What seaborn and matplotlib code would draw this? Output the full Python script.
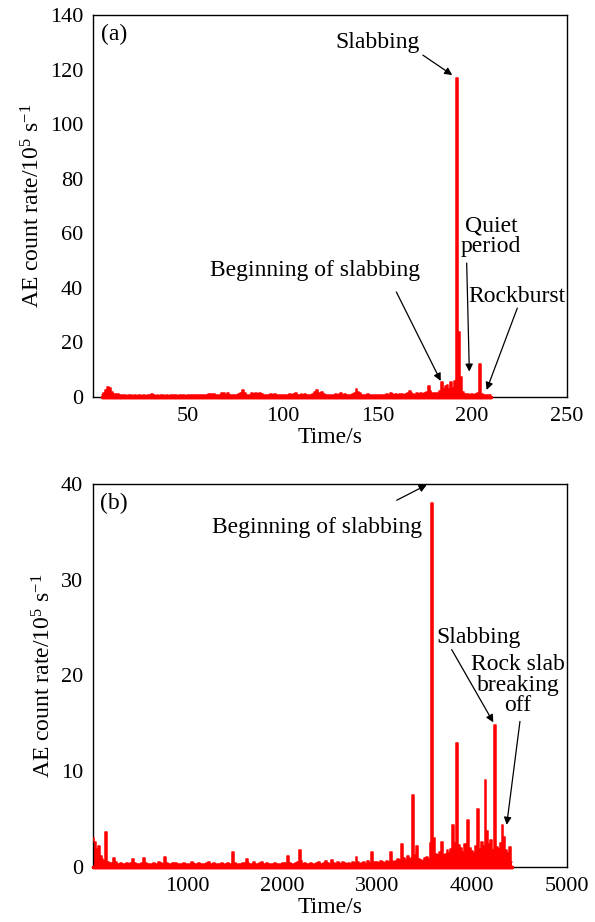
import numpy as np
import pandas as pd
import matplotlib
matplotlib.use("Agg")
import matplotlib.pyplot as plt
import seaborn as sns

# ---------------- data ----------------
# Panel (a): AE count rate (10^5 s^-1), one value per second from t = 5 s to 210 s
time_a_start, time_a_end, time_a_step = 5, 210, 1
rate_a = [
    0.8, 1.5, 2.5, 3.5, 3.2, 2.0, 1.1, 1.0, 1.2, 0.7,
    0.6, 0.8, 0.6, 0.5, 0.6, 0.7, 0.5, 0.6, 0.5, 0.6,
    0.7, 0.5, 0.6, 0.5, 0.6, 0.8, 1.1, 0.6, 0.5, 0.6,
    0.5, 0.7, 0.6, 0.5, 0.6, 0.5, 0.6, 0.7, 0.5, 0.6,
    0.5, 0.6, 0.8, 0.6, 0.5, 0.6, 0.7, 0.6, 0.5, 0.7,
    0.6, 0.8, 0.6, 0.7, 0.9, 0.7, 1.1, 0.8, 1.0, 1.1,
    0.7, 0.6, 0.9, 1.3, 1.5, 0.9, 1.4, 0.8, 0.7, 0.6,
    0.8, 0.7, 1.0, 1.6, 2.4, 1.5, 0.9, 0.7, 0.8, 1.3,
    1.0, 1.5, 1.2, 1.4, 1.0, 0.7, 0.6, 0.8, 0.7, 1.2,
    0.9, 1.1, 0.8, 0.6, 0.7, 0.6, 0.8, 0.7, 0.9, 1.1,
    0.8, 1.0, 1.3, 0.9, 0.7, 1.1, 0.8, 1.0, 0.7, 0.6,
    0.8, 1.2, 1.8, 2.7, 1.4, 0.9, 1.7, 1.0, 0.7, 0.6,
    0.8, 0.7, 0.9, 1.2, 0.8, 1.0, 1.3, 0.9, 1.2, 0.8,
    0.7, 0.9, 1.1, 1.6, 2.9, 1.8, 1.5, 0.9, 0.7, 0.8,
    1.0, 0.7, 0.6, 0.8, 0.7, 0.9, 0.6, 0.8, 0.7, 0.9,
    1.2, 0.8, 1.3, 1.1, 0.9, 1.2, 0.8, 1.0, 1.2, 0.9,
    1.1, 1.6, 2.3, 1.4, 1.0, 0.9, 1.5, 1.2, 1.6, 1.1,
    1.4, 1.8, 3.9, 2.2, 1.5, 1.3, 1.6, 1.4, 2.2, 5.5,
    2.8, 3.9, 4.5, 3.0, 5.5, 3.3, 6.0, 117.0, 24.0, 7.5,
    1.8, 1.2, 0.9, 1.0, 0.8, 1.1, 0.9, 1.0, 1.3, 12.0,
    1.2, 0.8, 0.9, 0.7, 0.8, 0.6,
]

# Panel (b): AE count rate (10^5 s^-1), one value per 20 s from t = 0 s to 4420 s
time_b_start, time_b_end, time_b_step = 0, 4420, 20
rate_b = [
    3.0, 2.6, 1.9, 2.2, 1.1, 0.8, 0.6, 3.6, 0.5, 0.4,
    0.4, 0.9, 0.5, 0.3, 0.3, 0.4, 0.3, 0.3, 0.4, 0.3,
    0.4, 0.8, 0.4, 0.3, 0.3, 0.3, 0.4, 0.9, 0.4, 0.3,
    0.3, 0.3, 0.4, 0.3, 0.3, 0.5, 0.4, 0.3, 1.0, 0.4,
    0.3, 0.3, 0.4, 0.3, 0.4, 0.3, 0.3, 0.3, 0.4, 0.3,
    0.3, 0.3, 0.5, 0.4, 0.3, 0.3, 0.4, 0.3, 0.3, 0.3,
    0.4, 0.5, 0.3, 0.3, 0.4, 0.3, 0.3, 0.3, 0.4, 0.3,
    0.3, 0.4, 0.3, 0.3, 1.6, 0.4, 0.3, 0.3, 0.3, 0.4,
    0.4, 0.8, 0.4, 0.3, 0.3, 0.5, 0.3, 0.3, 0.4, 0.5,
    0.3, 0.3, 0.4, 0.3, 0.3, 0.3, 0.4, 0.3, 0.3, 0.3,
    0.4, 0.3, 0.4, 1.1, 0.4, 0.3, 0.3, 0.4, 0.5, 1.8,
    0.6, 0.3, 0.4, 0.3, 0.3, 0.4, 0.3, 0.3, 0.4, 0.5,
    0.3, 0.3, 0.4, 0.6, 0.4, 0.3, 0.7, 0.4, 0.3, 0.5,
    0.4, 0.3, 0.5, 0.4, 0.3, 0.4, 0.3, 0.5, 0.4, 1.0,
    0.5, 0.3, 0.4, 0.5, 0.3, 0.6, 0.4, 1.6, 0.5, 0.4,
    0.5, 0.4, 0.6, 0.5, 0.4, 0.6, 0.5, 1.6, 0.6, 0.5,
    0.6, 0.8, 0.7, 2.4, 0.9, 0.7, 1.1, 0.8, 0.9, 7.5,
    1.2, 2.2, 0.8, 0.7, 0.6, 0.9, 1.0, 0.8, 2.5, 38.0,
    3.0, 1.4, 1.2, 1.6, 2.6, 1.3, 1.4, 1.8, 1.5, 1.9,
    4.4, 2.5, 12.9, 2.3, 2.0, 1.6, 2.4, 1.8, 4.9, 2.0,
    1.7, 1.5, 2.2, 6.1, 1.9, 2.6, 2.2, 9.1, 3.8, 2.4,
    2.8, 1.8, 14.8, 2.1, 1.9, 2.5, 4.4, 3.1, 1.8, 1.5,
    2.1, 0.5,
]

xticks_a = [50, 100, 150, 200, 250]
yticks_a = [0, 20, 40, 60, 80, 100, 120, 140]
xticks_b = [1000, 2000, 3000, 4000, 5000]
yticks_b = [0, 10, 20, 30, 40]

x_label = "Time/s"
y_label = "AE count rate/10$^{5}$ s$^{-1}$"

# annotations: (text, text position, arrow tail, arrow tip) in data units
notes_a = [
    ("Slabbing", (150, 130), (174, 125.3), (189.5, 118)),
    ("Beginning of slabbing", (117, 46.5), (160, 38.5), (183.4, 5.9)),
    ("Quiet\nperiod", (210, 59), (197.1, 49.1), (198.5, 9.3)),
    ("Rockburst", (223.5, 37), (223.8, 32.6), (207.6, 2.6)),
]
notes_b = [
    ("Beginning of slabbing", (2360, 35.5), (3204, 38.3), (3520, 39.9)),
    ("Slabbing", (4072, 24.0), (3784, 22.7), (4223, 15.1)),
    ("Rock slab\nbreaking\noff", (4483, 19.0), (4504, 15.2), (4364, 4.4)),
]

# ---------------- style ----------------
sns.set_style("white")
plt.rcParams["font.family"] = ["Liberation Serif", "DejaVu Serif"]
plt.rcParams["mathtext.fontset"] = "custom"
plt.rcParams["mathtext.rm"] = "Liberation Serif"
plt.rcParams["mathtext.it"] = "Liberation Serif:italic"
plt.rcParams["mathtext.bf"] = "Liberation Serif:bold"
for k in ["text.color", "axes.labelcolor", "xtick.color", "ytick.color", "axes.edgecolor"]:
    plt.rcParams[k] = "black"

fig = plt.figure(figsize=(5.95, 9.22), dpi=100)
ax1 = fig.add_axes([0.1563, 0.5694, 0.7966, 0.4143])
ax2 = fig.add_axes([0.1563, 0.0597, 0.7966, 0.4154])

df_a = pd.DataFrame({"time": np.arange(time_a_start, time_a_end + time_a_step, time_a_step),
                     "rate": rate_a})
df_b = pd.DataFrame({"time": np.arange(time_b_start, time_b_end + time_b_step, time_b_step),
                     "rate": rate_b})

RED = "#ff0000"

def draw(ax, df, xlim, ylim, xticks, yticks, tag, tagpos, notes):
    ax.fill_between(df["time"], 0, df["rate"], step="mid", color=RED, lw=0, zorder=2)
    sns.lineplot(data=df, x="time", y="rate", ax=ax, color=RED, linewidth=1.1,
                 drawstyle="steps-mid", zorder=3)
    # thick red baseline under the trace
    ax.fill_between(df["time"], 0, 0 * df["rate"], color=RED, lw=2.5,
                    edgecolor=RED, zorder=4, clip_on=False)
    ax.set_xlim(*xlim)
    ax.set_ylim(*ylim)
    ax.set_xticks(xticks)
    ax.set_yticks(yticks)
    ax.tick_params(direction="in", length=6, width=1, labelsize=16, pad=7,
                   top=False, right=False, colors="black")
    for s in ax.spines.values():
        s.set_visible(True)
        s.set_color("black")
        s.set_linewidth(1.0)
    ax.set_xlabel(x_label, fontsize=17, labelpad=1, color="black")
    ax.set_ylabel(y_label, fontsize=17, labelpad=4, color="black")
    ax.text(tagpos[0], tagpos[1], tag, fontsize=17, ha="center", va="center",
            color="black")
    for txt, tp, tail, tip in notes:
        ax.text(tp[0], tp[1], txt, fontsize=17, ha="center", va="center",
                linespacing=0.95, color="black")
        ax.annotate("", xy=tip, xytext=tail,
                    arrowprops=dict(arrowstyle="-|>", color="black", lw=0.9,
                                    mutation_scale=11, shrinkA=0, shrinkB=0))

draw(ax1, df_a, (0, 250), (0, 140), xticks_a, yticks_a, "(a)", (11, 133), notes_a)
draw(ax2, df_b, (0, 5000), (0, 40), xticks_b, yticks_b, "(b)", (221, 38), notes_b)

fig.savefig("out.png", dpi=100)
